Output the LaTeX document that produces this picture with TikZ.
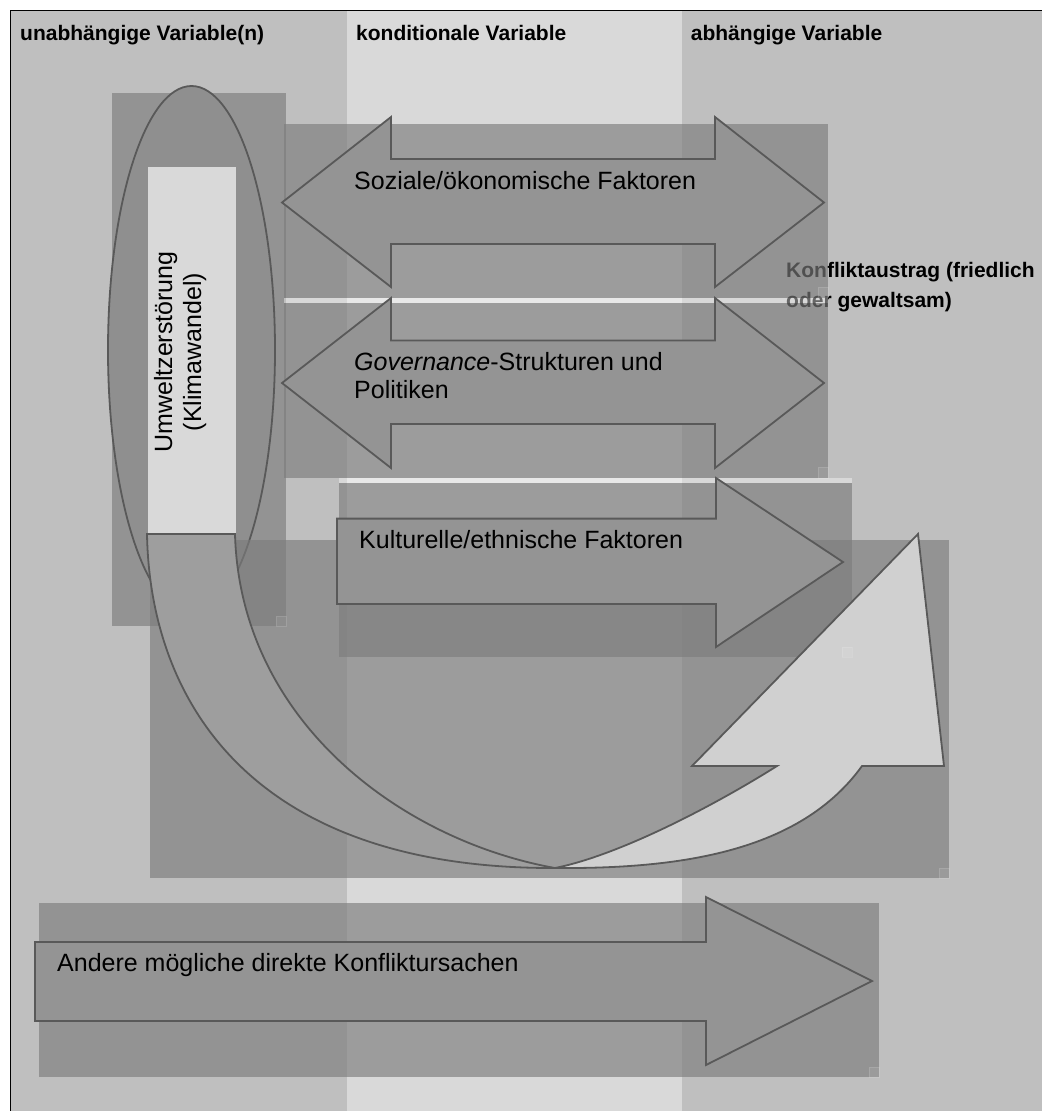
\documentclass[tikz,border=0pt]{standalone}
\usepackage{fontspec}
\setmainfont{Liberation Sans}[Ligatures=NoCommon]
\definecolor{colA}{HTML}{BFBFBF}
\definecolor{colB}{HTML}{D9D9D9}
\definecolor{boxc}{HTML}{7C7C7C}
\definecolor{arrowfill}{HTML}{949494}
\definecolor{edgec}{HTML}{595959}
\definecolor{ellfill}{HTML}{8F8F8F}
\definecolor{lightfill}{HTML}{D0D0D0}
\definecolor{armfill}{HTML}{9E9E9E}
\tikzset{
  shadebox/.style={fill=boxc, fill opacity=0.65, draw=none},
  arrowshape/.style={fill=arrowfill, draw=edgec, line width=1.8, line join=miter},
  headtxt/.style={font=\bfseries\fontsize{21}{25}\selectfont, anchor=base west, inner sep=0},
  labeltxt/.style={font=\fontsize{25}{28.5}\selectfont, anchor=base west, inner sep=0},
  gapstrip/.style={fill=white, fill opacity=0.4, draw=none},
  handlebox/.style={fill=white, fill opacity=0.08, draw=white, draw opacity=0.12, line width=0.5}
}
\begin{document}
\begin{tikzpicture}[x=1pt,y=-1pt]
\useasboundingbox (0,0) rectangle (1042,1111);
\fill[white] (0,0) rectangle (1042,1111);
% column backgrounds
\fill[colA] (11,11) rectangle (347,1111);
\fill[colB] (347,11) rectangle (682,1111);
\fill[colA] (682,11) rectangle (1042,1111);
\draw[line width=1.6] (10.5,1111) -- (10.5,10.5) -- (1042,10.5);
% headers
\node[headtxt] (h1) at (20,40.7) {unabhängige Variable(n)};
\node[headtxt] (h2) at (356,40.7) {konditionale Variable};
\node[headtxt] (h3) at (690.7,40.7) {abhängige Variable};
% dependent variable text (under the shading box)
\node[headtxt] (k1) at (786,277) {Konfliktaustrag (friedlich};
\node[headtxt] (k2) at (786,307) {oder gewaltsam)};
% independent variable
\fill[shadebox] (112,93) rectangle (286,626);
\draw[fill=ellfill, draw=edgec, line width=1.8] (191.5,350) ellipse [x radius=83.5, y radius=264];
\fill[colB] (148,167) rectangle (236,545);
\node[labeltxt, anchor=base, rotate=90] (u1) at (172,352) {Umweltzerstörung};
\node[labeltxt, anchor=base, rotate=90] (u2) at (201,352) {(Klimawandel)};
% social/economic
\fill[shadebox] (284,124) rectangle (828,297.5);
\draw[arrowshape] (282,202.5) -- (391,117) -- (391,159) -- (715,159) -- (715,117) -- (824,202.5)
  -- (715,287) -- (715,244) -- (391,244) -- (391,287) -- cycle;
\node[labeltxt] (soz) at (354,189) {Soziale/ökonomische Faktoren};
\fill[gapstrip] (284,297.5) rectangle (828,303);
% governance
\fill[shadebox] (284,303) rectangle (828,478);
\draw[arrowshape] (282,383) -- (391,298) -- (391,340.5) -- (715,340.5) -- (715,298) -- (824,383)
  -- (715,468) -- (715,424) -- (391,424) -- (391,468) -- cycle;
\node[labeltxt] (gov1) at (354,370) {\itshape Governance\upshape-Strukturen und};
\node[labeltxt] (gov2) at (354,398.5) {Politiken};
\fill[gapstrip] (339,478) rectangle (852,483);
% cultural/ethnic + curved arrow boxes
\fill[shadebox] (339,483) rectangle (852,657);
\fill[shadebox] (150,540) rectangle (949,878);
\draw[arrowshape] (337,518.6) -- (716,518.6) -- (716,478) -- (843,562) -- (716,647) -- (716,604)
  -- (337,604) -- cycle;
\node[labeltxt] (kult) at (359,548) {Kulturelle/ethnische Faktoren};
% curved arrow
\draw[fill=armfill, draw=edgec, line width=1.8, line join=miter]
  (147,534) -- (235,534) .. controls (240,720) and (400,840) .. (555,868)
  .. controls (250,869) and (150,700) .. (147,534) -- cycle;
\draw[fill=lightfill, draw=edgec, line width=1.8, line join=miter]
  (555,868) .. controls (620,855) and (715,805) .. (777,766) -- (692,766) -- (918,534)
  -- (944,766) -- (862,766) .. controls (800,852) and (680,869) .. (555,868) -- cycle;
% other causes
\fill[shadebox] (39,903) rectangle (879,1077);
\draw[arrowshape] (35,942) -- (706,942) -- (706,897) -- (872,981) -- (706,1065) -- (706,1021)
  -- (35,1021) -- cycle;
\node[labeltxt] (andere) at (57,971) {Andere mögliche direkte Konfliktursachen};
% resize handles
\draw[handlebox] (276,616) rectangle (286,626);
\draw[handlebox] (818,287) rectangle (828,297);
\draw[handlebox] (818,467) rectangle (828,478);
\draw[handlebox] (842,647) rectangle (852,657);
\draw[handlebox] (939,868) rectangle (949,878);
\draw[handlebox] (869,1067) rectangle (879,1077);
\end{tikzpicture}
\end{document}
